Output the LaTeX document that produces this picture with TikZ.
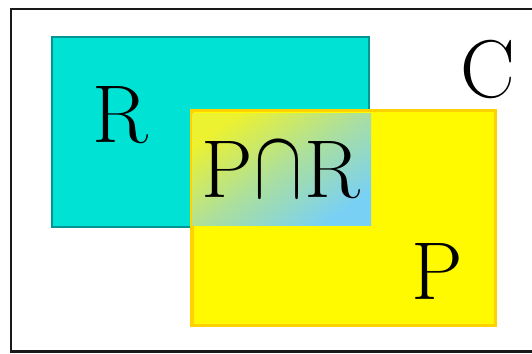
\documentclass[tikz,border=0pt]{standalone}
\definecolor{rfill}{RGB}{0,226,212}
\definecolor{rline}{RGB}{0,150,150}
\definecolor{pfill}{RGB}{255,250,0}
\definecolor{pline}{RGB}{255,210,0}
\definecolor{mixtop}{RGB}{236,242,48}
\definecolor{mixbot}{RGB}{120,208,245}
\tikzset{
  setlabel/.style={font=\fontsize{82}{90}\selectfont, inner sep=0pt, anchor=base},
}
% intersection sign built from the normal-size math symbol, enlarged
\newcommand{\bigcapsym}{\hspace{2pt}\scalebox{7.2}[9.8]{\normalsize${\cap}$}\hspace{2pt}}
\begin{document}
\begin{tikzpicture}[x=1pt,y=-1pt]
  \useasboundingbox (0,0) rectangle (532,353);
  \clip (0,0) rectangle (532,353);
  % universe frame
  \draw[line width=2.6pt, black!90] (11,9) rectangle (548,351.5) coordinate (frame);
  % set R
  \draw[fill=rfill, draw=rline, line width=2.6pt] (52,37) rectangle (369,227) coordinate (setR);
  % set P
  \draw[fill=pfill, draw=pline, line width=3.4pt] (192,110.5) rectangle (495.5,325.5) coordinate (setP);
  % intersection of P and R
  \shade[shading=axis, top color=mixtop, bottom color=mixbot, middle color=mixtop!45!mixbot, shading angle=35]
    (192.5,113) rectangle (371,225) coordinate (setPR);
  % labels
  \node[setlabel] (labR) at (120,142) {R};
  \node[setlabel] (labC) at (488,97) {C};
  \node[setlabel, anchor=base west] (labPR) at (201,197) {P\bigcapsym R};
  \node[setlabel] (labP) at (437,299) {P};
\end{tikzpicture}
\end{document}
